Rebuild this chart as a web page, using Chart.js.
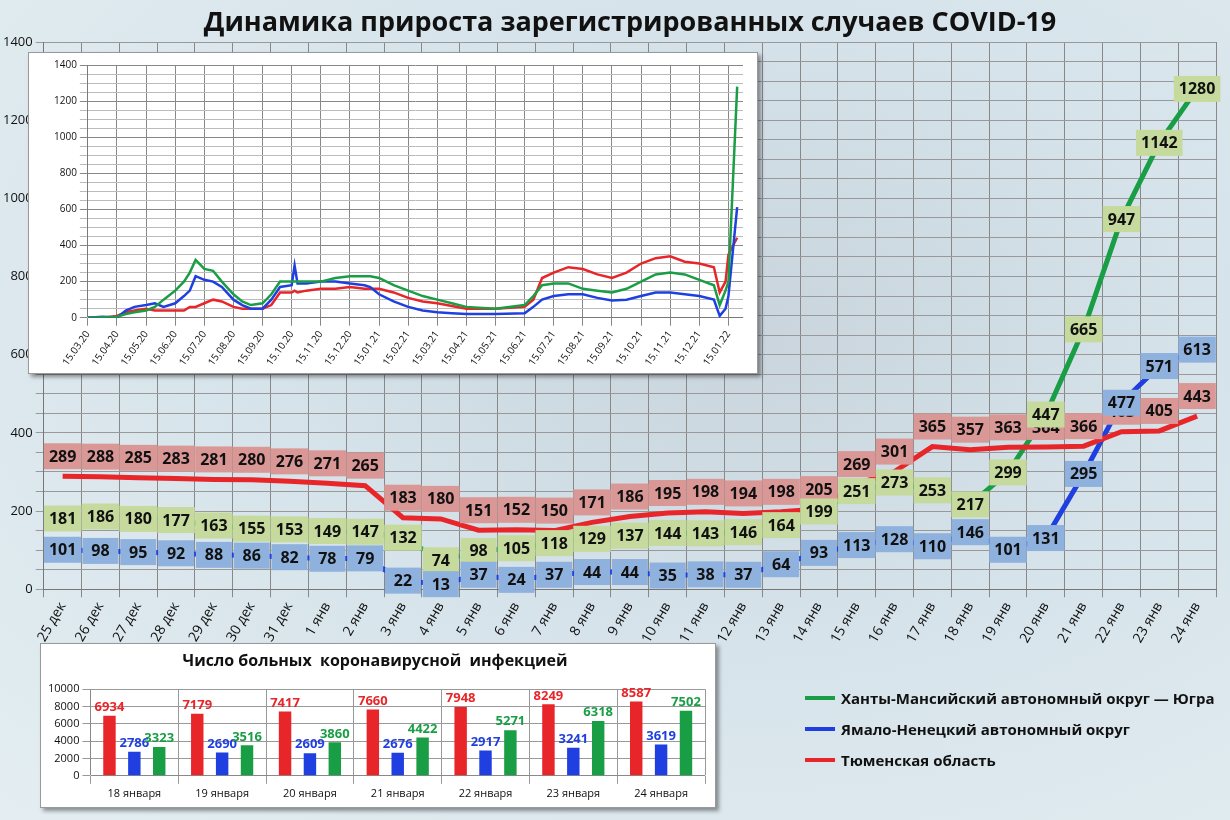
<!DOCTYPE html>
<html><head><meta charset="utf-8">
<script src="https://cdn.jsdelivr.net/npm/chart.js@4.4.0/dist/chart.umd.min.js"></script>
<style>
body{margin:0;width:1230px;height:820px;overflow:hidden;font-family:"Open Sans","DejaVu Sans",sans-serif;
background:radial-gradient(ellipse at 60% 40%,#c9d4dc 0%,#d6e3ea 45%,#e4eef2 100%);}
#main{position:absolute;left:0;top:0}
#title{position:absolute;left:0;top:2px;width:1260px;text-align:center;font-weight:bold;font-size:27px;color:#111}
.box{position:absolute;background:#fff;border:1px solid #999;box-shadow:3px 3px 4px rgba(0,0,0,.4)}
.box canvas{position:absolute;left:0;top:0}
#b1{left:28px;top:52px;width:728px;height:320px}
#b2{left:40px;top:643px;width:674px;height:163px}
#leg{position:absolute;left:805px;top:682px;font-weight:bold;font-size:15px;color:#111}
#leg div{height:31px;display:flex;align-items:center}
#leg span{display:inline-block;width:30px;height:4px;margin-right:6px}
</style></head><body>
<canvas id="main" width="1230" height="820"></canvas>
<div id="title">Динамика прироста зарегистрированных случаев COVID-19</div>
<div class="box" id="b1"><canvas id="c1" width="728" height="320"></canvas></div>
<div class="box" id="b2"><canvas id="c2" width="674" height="163"></canvas></div>
<div id="leg">
<div><span style="background:#1a9e45"></span>Ханты-Мансийский автономный округ — Югра</div>
<div><span style="background:#1f3fe0"></span>Ямало-Ненецкий автономный округ</div>
<div><span style="background:#e8262a"></span>Тюменская область</div>
</div>
<script>
const days=["25 дек","26 дек","27 дек","28 дек","29 дек","30 дек","31 дек","1 янв","2 янв","3 янв","4 янв","5 янв","6 янв","7 янв","8 янв","9 янв","10 янв","11 янв","12 янв","13 янв","14 янв","15 янв","16 янв","17 янв","18 янв","19 янв","20 янв","21 янв","22 янв","23 янв","24 янв"];
const tyumen=[289,288,285,283,281,280,276,271,265,183,180,151,152,150,171,186,195,198,194,198,205,269,301,365,357,363,364,366,403,405,443];
const hmao=[181,186,180,177,163,155,153,149,147,132,74,98,105,118,129,137,144,143,146,164,199,251,273,253,217,299,447,665,947,1142,1280];
const yanao=[101,98,95,92,88,86,82,78,79,22,13,37,24,37,44,44,35,38,37,64,93,113,128,110,146,101,131,295,477,571,613];

const monthLabels=["15.03.20","15.04.20","15.05.20","15.06.20","15.07.20","15.08.20","15.09.20","15.10.20","15.11.20","15.12.20","15.01.21","15.02.21","15.03.21","15.04.21","15.05.21","15.06.21","15.07.21","15.08.21","15.09.21","15.10.21","15.11.21","15.12.21","15.01.22"];
const histT=[0,0.5,1,1.3,1.6,2,2.3,2.6,3,3.3,3.5,3.7,4,4.3,4.6,5,5.3,5.6,6,6.3,6.6,7,7.1,7.2,7.5,8,8.5,9,9.5,9.7,10,10.5,11,11.5,12,12.5,13,14,15,15.3,15.6,16,16.5,17,17.5,18,18.5,19,19.5,20,20.5,21,21.5,21.7,21.9,22,22.3];
const histG=[0,2,5,20,30,40,60,100,150,200,250,320,270,260,200,130,90,70,80,130,200,200,200,200,200,200,220,230,230,230,220,180,150,120,100,80,60,50,70,120,180,190,190,160,150,140,160,200,240,250,240,210,180,70,150,200,1280];
const histB=[0,5,0,40,60,70,80,60,80,120,150,230,210,200,170,100,70,50,50,100,170,180,290,190,190,200,200,190,180,170,130,90,60,40,30,25,20,20,25,60,100,120,130,130,110,95,100,120,140,140,130,120,100,10,50,120,613];
const histR=[0,0,10,30,40,50,40,40,40,40,60,60,80,100,90,60,50,50,50,70,140,140,150,140,150,160,160,170,160,160,160,140,110,90,80,65,50,50,60,100,220,250,280,270,240,220,250,300,330,340,310,300,280,140,200,350,443];

const barCats=["18 января","19 января","20 января","21 января","22 января","23 января","24 января"];
const barT=[6934,7179,7417,7660,7948,8249,8587];
const barY=[2786,2690,2609,2676,2917,3241,3619];
const barH=[3323,3516,3860,4422,5271,6318,7502];

const RED='#e8262a',BLUE='#1f3fe0',GREEN='#1a9e45';
const F='"Open Sans","DejaVu Sans",sans-serif';

const labelPlugin={id:'lbl',afterDatasetsDraw(ch){
  const ctx=ch.ctx;
  const st=[{fill:'#d99896',dy:-20},{fill:'#c5da9c',dy:0},{fill:'#8fb1dd',dy:0}];
  ch.data.datasets.forEach((ds,di)=>{
    const meta=ch.getDatasetMeta(di);
    meta.data.forEach((p,i)=>{
      const t=String(ds.data[i]);ctx.font='bold 16px '+F;
      const w=Math.max(36,ctx.measureText(t).width+10),h=26;
      const y=p.y+st[di].dy;
      ctx.fillStyle=st[di].fill;ctx.fillRect(p.x-w/2,y-h/2,w,h);
      ctx.fillStyle='#111';ctx.textAlign='center';ctx.textBaseline='middle';ctx.fillText(t,p.x,y+1);
    });
  });
}};

new Chart(document.getElementById('main'),{type:'line',
data:{labels:days,datasets:[
 {data:tyumen,borderColor:RED,borderWidth:5,pointRadius:0,tension:0},
 {data:hmao,borderColor:GREEN,borderWidth:5,pointRadius:0,tension:0,segment:{borderDash:c=>c.p1DataIndex<=20?[5,5]:undefined}},
 {data:yanao,borderColor:BLUE,borderWidth:5,pointRadius:0,tension:0}]},
options:{responsive:false,animation:false,layout:{padding:{top:42,right:14,left:0,bottom:172}},
 plugins:{legend:{display:false},tooltip:{enabled:false}},
 scales:{x:{offset:true,grid:{color:'#888',offset:true},border:{color:'#777'},ticks:{maxRotation:60,minRotation:60,font:{size:14,family:F},color:'#111',padding:2}},
  y:{min:0,max:1400,grid:{color:'#999'},border:{color:'#777'},ticks:{stepSize:50,autoSkip:false,font:{size:13,family:F},color:'#111',callback:v=>v%200===0?v:''}}}},
plugins:[labelPlugin]});

const pts=a=>a.map((v,i)=>({x:histT[i],y:v}));
new Chart(document.getElementById('c1'),{type:'line',
data:{datasets:[
 {data:pts(histG),borderColor:GREEN,borderWidth:2.5,pointRadius:0},
 {data:pts(histB),borderColor:BLUE,borderWidth:2.5,pointRadius:0},
 {data:pts(histR),borderColor:RED,borderWidth:2.5,pointRadius:0}]},
options:{responsive:false,animation:false,layout:{padding:{top:12,right:14,left:22,bottom:2}},
 plugins:{legend:{display:false},tooltip:{enabled:false}},
 scales:{x:{type:'linear',min:0,max:22.5,grid:{color:'#888'},ticks:{stepSize:1,maxRotation:55,minRotation:55,autoSkip:false,includeBounds:false,font:{size:10,family:F},color:'#111',callback:v=>Number.isInteger(v)?monthLabels[v]:''}},
  y:{min:0,max:1400,grid:{color:c=>c.tick.value%200===0?'#888':'#bbb'},ticks:{stepSize:50,autoSkip:false,font:{size:10,family:F},color:'#111',callback:v=>v%200===0?v:''}}}}});

const barLbl={id:'bl',afterDatasetsDraw(ch){const ctx=ch.ctx;
 ch.data.datasets.forEach((ds,di)=>ch.getDatasetMeta(di).data.forEach((b,i)=>{
  ctx.font='bold 13px '+F;ctx.fillStyle=ds.backgroundColor;ctx.textAlign='center';ctx.textBaseline='bottom';
  ctx.fillText(ds.data[i],b.x,b.y-2);}));}};
new Chart(document.getElementById('c2'),{type:'bar',
data:{labels:barCats,datasets:[
 {data:barT,backgroundColor:RED},{data:barY,backgroundColor:BLUE},{data:barH,backgroundColor:GREEN}]},
options:{responsive:false,animation:false,layout:{padding:{top:4,right:10,left:4,bottom:4}},
 datasets:{bar:{barPercentage:0.5,categoryPercentage:0.85}},
 plugins:{legend:{display:false},tooltip:{enabled:false},title:{display:true,text:'Число больных  коронавирусной  инфекцией',font:{size:16,weight:'bold',family:F},color:'#111',padding:{top:4,bottom:18}}},
 scales:{x:{grid:{color:'#999'},ticks:{maxRotation:0,minRotation:0,font:{size:11,family:F},color:'#111'}},
  y:{min:0,max:10000,grid:{color:'#999'},ticks:{stepSize:2000,font:{size:11,family:F},color:'#111',callback:v=>String(v)}}}},
plugins:[barLbl]});
</script>
</body></html>
